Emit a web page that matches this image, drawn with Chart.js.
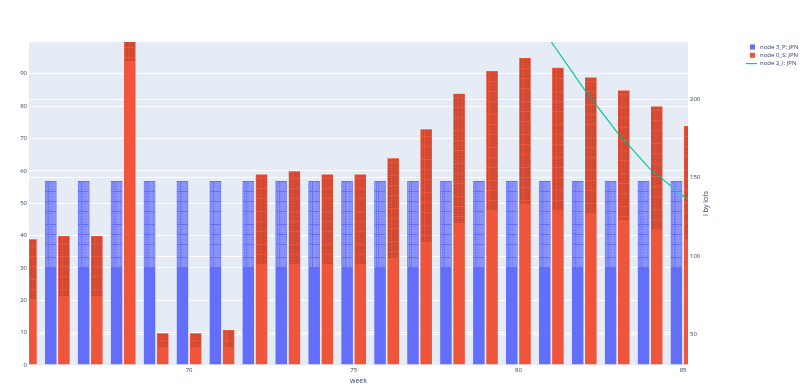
<!DOCTYPE html>
<html>
<head>
<meta charset="utf-8">
<script src="https://cdn.jsdelivr.net/npm/chart.js@4.4.0/dist/chart.umd.min.js"></script>
<style>
  body { margin: 0; background: #fff; }
  #wrap { width: 800px; height: 389px; position: relative; }
</style>
</head>
<body>
<div id="wrap"><canvas id="canvas"></canvas></div>
<script>
// data
const weeks = [65, 66, 67, 68, 69, 70, 71, 72, 73, 74, 75, 76, 77, 78, 79, 80, 81, 82, 83, 84, 85];
const node3P = [57, 57, 57, 57, 57, 57, 57, 57, 57, 57, 57, 57, 57, 57, 57, 57, 57, 57, 57, 57, 57];
const node0S = [39, 40, 40, 180, 10, 10, 11, 59, 60, 59, 59, 64, 73, 84, 91, 95, 92, 89, 85, 80, 74];
const lineWeeks = [81, 82, 83, 84, 85, 86];
const node2I = [236.7, 206.5, 179, 155.5, 138.5, 122];
const xTicks = [70, 75, 80, 85];
const yTicks = [0, 10, 20, 30, 40, 50, 60, 70, 80, 90];
const y2Ticks = [50, 100, 150, 200];
const legendLabels = ['node 3_P: JPN', 'node 0_S: JPN', 'node 2_I: JPN'];

const BLUE = '#636efa', RED = '#EF553B', TEAL = '#00cc96', TXT = '#2a3f5f';
const FONT = '"Open Sans", sans-serif';

const bgPlugin = {
  id: 'bg',
  beforeDraw(chart) {
    const {ctx, chartArea: a} = chart;
    ctx.save();
    ctx.fillStyle = '#E5ECF6';
    ctx.fillRect(a.left, a.top, a.right - a.left, a.bottom - a.top);
    ctx.restore();
  }
};

// tiny stacked value text inside each bar
const barTextPlugin = {
  id: 'barText',
  afterDatasetsDraw(chart) {
    const {ctx, chartArea: a} = chart;
    ctx.save();
    ctx.beginPath();
    ctx.rect(a.left, a.top, a.right - a.left, a.bottom - a.top);
    ctx.clip();
    ctx.font = '3px ' + FONT;
    ctx.textAlign = 'center';
    ctx.textBaseline = 'top';
    [0, 1].forEach(di => {
      const meta = chart.getDatasetMeta(di);
      const vals = chart.data.datasets[di].data;
      ctx.fillStyle = di === 0 ? 'rgba(255,255,255,0.7)' : 'rgba(120,40,30,0.8)';
      meta.data.forEach((bar, i) => {
        const h = bar.base - bar.y;
        const n = Math.floor(h * 0.48 / 3.3);
        const txt = vals[i].y.toFixed(4);
        for (let k = 0; k < n; k++) {
          ctx.fillText(txt, bar.x, bar.y + 2 + k * 3.3, bar.width - 2);
        }
      });
    });
    ctx.restore();
  }
};

const decoPlugin = {
  id: 'deco',
  afterDraw(chart) {
    const {ctx, chartArea: a} = chart;
    ctx.save();
    ctx.fillStyle = TXT;
    ctx.font = '7px ' + FONT;
    ctx.textAlign = 'center';
    ctx.textBaseline = 'middle';
    ctx.fillText('week', (a.left + a.right) / 2, 381);
    ctx.translate(706, (a.top + a.bottom) / 2);
    ctx.rotate(-Math.PI / 2);
    ctx.fillText('I by lots', 0, 0);
    ctx.restore();

    // legend
    ctx.save();
    ctx.font = '6px ' + FONT;
    ctx.textBaseline = 'middle';
    ctx.textAlign = 'left';
    const rows = [47, 55.3, 63.6];
    ctx.fillStyle = BLUE;
    ctx.fillRect(750, rows[0] - 2.5, 5, 5);
    ctx.fillStyle = RED;
    ctx.fillRect(750, rows[1] - 2.5, 5, 5);
    ctx.strokeStyle = TEAL;
    ctx.lineWidth = 1.2;
    ctx.beginPath();
    ctx.moveTo(746, rows[2]);
    ctx.lineTo(757, rows[2]);
    ctx.stroke();
    ctx.fillStyle = TXT;
    legendLabels.forEach((t, i) => ctx.fillText(t, 760, rows[i]));
    ctx.restore();
  }
};

const ctx = document.getElementById('canvas').getContext('2d');
const myChart = new Chart(ctx, {
  type: 'bar',
  data: {
    datasets: [{
      label: legendLabels[0],
      data: weeks.map((w, i) => ({x: w, y: node3P[i]})),
      backgroundColor: BLUE,
      borderColor: '#E5ECF6',
      borderWidth: 0.5,
      yAxisID: 'y',
      order: 2
    }, {
      label: legendLabels[1],
      data: weeks.map((w, i) => ({x: w, y: node0S[i]})),
      backgroundColor: RED,
      borderColor: '#E5ECF6',
      borderWidth: 0.5,
      yAxisID: 'y',
      order: 2
    }, {
      type: 'line',
      label: legendLabels[2],
      data: lineWeeks.map((w, i) => ({x: w, y: node2I[i]})),
      borderColor: TEAL,
      borderWidth: 1.2,
      pointRadius: 0,
      fill: false,
      tension: 0,
      yAxisID: 'y2',
      order: 1
    }]
  },
  options: {
    responsive: true,
    maintainAspectRatio: false,
    animation: false,
    categoryPercentage: 0.8,
    barPercentage: 0.95,
    layout: { padding: { top: 42, left: 0, right: 0, bottom: 0 } },
    plugins: { legend: { display: false }, tooltip: { enabled: false } },
    scales: {
      x: {
        type: 'linear',
        min: 65.14,
        max: 85.15,
        offset: false,
        afterFit(s) { s.height = 24; },
        afterBuildTicks(s) { s.ticks = xTicks.map(v => ({value: v})); },
        grid: { drawOnChartArea: false, drawTicks: false, offset: false },
        border: { display: false },
        ticks: { color: TXT, font: { family: FONT, size: 6 }, padding: 2, maxRotation: 0 }
      },
      y: {
        position: 'left',
        min: 0,
        max: 99.8,
        afterFit(s) { s.width = 29; },
        afterBuildTicks(s) { s.ticks = yTicks.map(v => ({value: v})); },
        grid: { color: '#fff', lineWidth: 1, drawTicks: false },
        border: { display: false },
        ticks: { color: TXT, font: { family: FONT, size: 6 }, padding: 2 }
      },
      y2: {
        position: 'right',
        min: 30.4,
        max: 236.7,
        afterFit(s) { s.width = 112; },
        afterBuildTicks(s) { s.ticks = y2Ticks.map(v => ({value: v})); },
        grid: { color: '#fff', lineWidth: 1, drawTicks: false },
        border: { display: false },
        ticks: { color: TXT, font: { family: FONT, size: 6 }, padding: 2 }
      }
    }
  },
  plugins: [bgPlugin, barTextPlugin, decoPlugin]
});
</script>
</body>
</html>
